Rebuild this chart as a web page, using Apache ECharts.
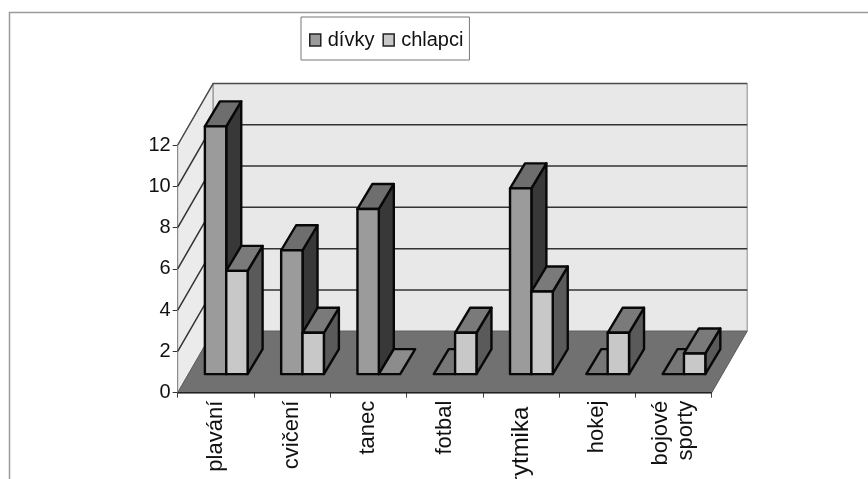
<!DOCTYPE html>
<html><head><meta charset="utf-8">
<style>html,body{margin:0;padding:0;background:#fff}#c{width:868px;height:479px;filter:blur(0.45px)}</style>
<script src="https://cdn.jsdelivr.net/npm/echarts@6/dist/echarts.min.js"></script>
</head><body><div id="c"></div>
<script>
const categories = ['plavání','cvičení','tanec','fotbal','rytmika','hokej','bojové\nsporty'];
const divky = [12,6,8,0,9,0,0];
const chlapci = [5,2,0,2,4,2,1];
const yTicks = [0,2,4,6,8,10,12];

const WALL = [35.5,-61.5];   // floor depth in px
const FRONT = [10.4,-18.6];  // gap between front axis and bar front
const DEPTH = [15,-25];      // bar depth
const BAR = 0.28;            // bar width as a share of the category band
const STROKE = {stroke:'#080808',lineWidth:2.4,lineJoin:'round'};

function poly(points,fill,extra){
  return {type:'polygon',shape:{points},style:Object.assign({fill},STROKE,extra||{})};
}
function barRenderer(side,colors){
  return function(params,api){
    const i=api.value(0), v=api.value(1);
    const band=api.size([1,0])[0], w=band*BAR;
    const base=api.coord([i,0]), top=api.coord([i,v]);
    const x0=base[0]+FRONT[0]+(side<0?-w:0), x1=x0+w;
    const yb=base[1]+FRONT[1], yt=top[1]+FRONT[1];
    const dx=DEPTH[0], dy=DEPTH[1];
    const children=[];
    if(v>0){
      children.push(poly([[x1,yt],[x1+dx,yt+dy],[x1+dx,yb+dy],[x1,yb]],colors.side));
      children.push(poly([[x0,yt],[x0+dx,yt+dy],[x1+dx,yt+dy],[x1,yt]],colors.top));
      children.push(poly([[x0,yt],[x1,yt],[x1,yb],[x0,yb]],colors.front));
    }else{
      children.push(poly([[x0,yb],[x0+dx,yb+dy],[x1+dx,yb+dy],[x1,yb]],colors.flat));
    }
    return {type:'group',children};
  };
}
function wallsRenderer(params,api){
  const cs=params.coordSys, L=cs.x, R=cs.x+cs.width, B=cs.y+cs.height, T=cs.y;
  const dx=WALL[0], dy=WALL[1];
  const thin={stroke:'#8a8a8a',lineWidth:1};
  const c=[];
  c.push({type:'polygon',shape:{points:[[L,T],[L+dx,T+dy],[L+dx,B+dy],[L,B]]},style:Object.assign({fill:'#ebebeb'},thin)});
  c.push({type:'polygon',shape:{points:[[L+dx,T+dy],[R+dx,T+dy],[R+dx,B+dy],[L+dx,B+dy]]},style:Object.assign({fill:'#e8e8e8'},thin)});
  c.push({type:'polygon',shape:{points:[[L,B],[L+dx,B+dy],[R+dx,B+dy],[R,B]]},style:{fill:'#717171',stroke:'#5c5c5c',lineWidth:1}});
  yTicks.forEach(function(t){
    const y=api.coord([0,t])[1];
    const top=t===yTicks[yTicks.length-1];
    if(t>0){
      c.push({type:'polyline',shape:{points:[[L,y],[L+dx,y+dy],[R+dx,y+dy]]},style:{fill:null,stroke:top?'#4a4a4a':'#333',lineWidth:1.5}});
    }
  });
  c.push({type:'line',shape:{x1:L,y1:B,x2:R,y2:B},style:{stroke:'#222',lineWidth:1.5}});
  return {type:'group',children:c};
}
const girlColors={front:'#9b9b9b',top:'#6e6e6e',side:'#383838',flat:'#777777'};
const boyColors={front:'#c8c8c8',top:'#7a7a7a',side:'#5a5a5a',flat:'#8c8c8c'};

const chart=echarts.init(document.getElementById('c'),null,{renderer:'canvas'});
chart.setOption({
  animation:false,
  backgroundColor:'#fff',
  textStyle:{fontFamily:'"Liberation Sans",Arial,sans-serif'},
  graphic:[
    {type:'polyline',shape:{points:[[9.5,479],[9.5,12.5],[868,12.5]]},style:{fill:null,stroke:'#9a9a9a',lineWidth:1.5},silent:true}
  ],
  legend:{
    left:301,top:17,orient:'horizontal',padding:[13,6,10,8],itemGap:8,itemWidth:11,itemHeight:12,icon:'rect',
    borderColor:'#777',borderWidth:1,backgroundColor:'#fff',
    textStyle:{fontSize:20,color:'#111',padding:[0,0,0,2]},
    data:[
      {name:'dívky',itemStyle:{color:'#9b9b9b',borderColor:'#222',borderWidth:1.5}},
      {name:'chlapci',itemStyle:{color:'#c8c8c8',borderColor:'#222',borderWidth:1.5}}
    ]
  },
  grid:{left:177.7,top:145,width:534,height:247.7,containLabel:false,outerBoundsMode:'none'},
  xAxis:{
    type:'category',
    data:categories.map(function(c){
      return c==='rytmika' ? {value:c,textStyle:{fontSize:24,padding:[0,6,0,0]}} : c;
    }),
    boundaryGap:true,
    axisLine:{show:true,lineStyle:{color:'#222',width:1}},
    axisTick:{show:true,length:5,alignWithLabel:false,lineStyle:{color:'#444'}},
    axisLabel:{rotate:90,fontSize:22,color:'#111',interval:0,margin:8,lineHeight:25,align:'right',verticalAlign:'middle'}
  },
  yAxis:{
    type:'value',min:0,max:12,interval:2,
    axisLine:{show:true,lineStyle:{color:'#666',width:1}},
    axisTick:{show:true,length:5,lineStyle:{color:'#333'}},
    splitLine:{show:false},
    axisLabel:{fontSize:20,color:'#111',margin:7}
  },
  series:[
    {type:'custom',name:'walls',silent:true,z:1,clip:false,coordinateSystem:'cartesian2d',renderItem:wallsRenderer,data:[[0,0]],encode:{x:0,y:1}},
    {type:'custom',name:'dívky',z:2,clip:false,coordinateSystem:'cartesian2d',renderItem:barRenderer(-1,girlColors),itemStyle:{color:'#9b9b9b'},encode:{x:0,y:1},data:divky.map((v,i)=>[i,v])},
    {type:'custom',name:'chlapci',z:3,clip:false,coordinateSystem:'cartesian2d',renderItem:barRenderer(1,boyColors),itemStyle:{color:'#c8c8c8'},encode:{x:0,y:1},data:chlapci.map((v,i)=>[i,v])}
  ]
});
</script></body></html>
